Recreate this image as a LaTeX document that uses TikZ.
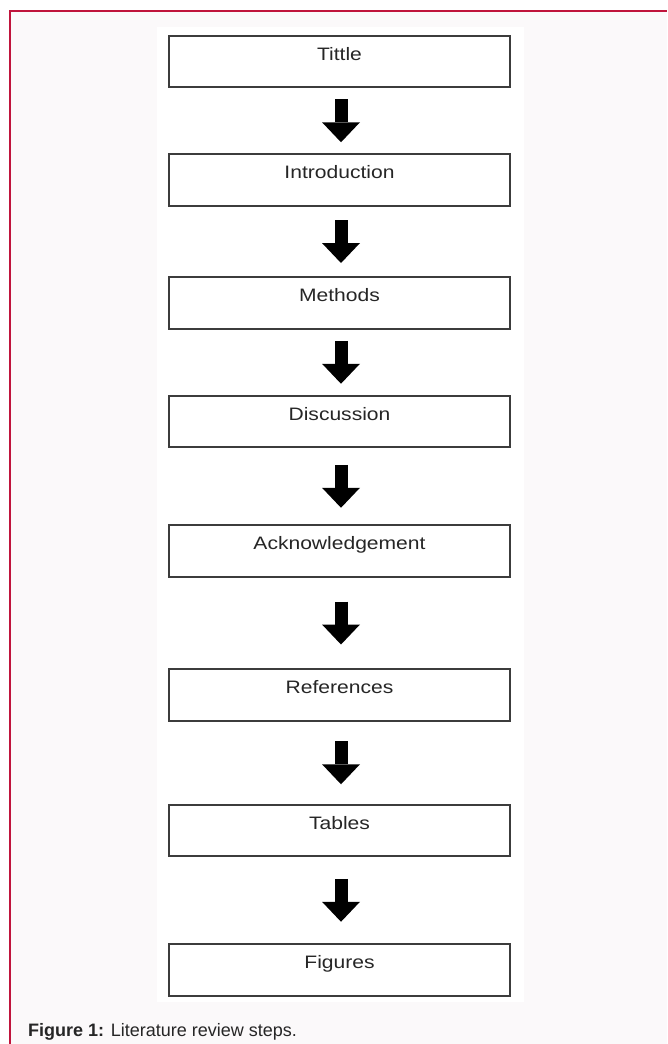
\documentclass[tikz,border=0pt]{standalone}
\usepackage{graphicx}
\usepackage{fontspec}
\setmainfont{Liberation Sans}
\usetikzlibrary{arrows.meta,calc}
\definecolor{frame}{HTML}{C0143C}
\definecolor{bgpink}{HTML}{FBF9FA}
\definecolor{boxline}{HTML}{3C3C3C}
\definecolor{txt}{HTML}{262626}
\begin{document}
\begin{tikzpicture}[x=1pt,y=-1pt,
  stepbox/.style={draw=boxline, line width=1.8pt, fill=white,
    minimum width=341pt, minimum height=51.5pt, inner sep=0pt,
    text height=10pt, text depth=13pt,
    font=\fontsize{18}{20}\selectfont, text=txt},
  blockarrow/.style={black, line width=13pt,
    -{Triangle[width=38pt,length=20pt,line width=0pt]}},
  caption/.style={anchor=base west, inner sep=0pt,
    font=\fontsize{18}{20}\selectfont, text=txt}]
\useasboundingbox (0,0) rectangle (667,1044);
\fill[white] (0,0) rectangle (667,1044);
\fill[bgpink] (10,11) rectangle (667,1044);
\draw[frame, line width=1.5pt] (10,1044) -- (10,11) -- (667,11);
\fill[white] (157,27) rectangle (524,1002);

\node[stepbox] (n1) at (339.5,61.5) {\scalebox{1.17}[1]{Tittle}};
\node[stepbox] (n2) at (339.5,180) {\scalebox{1.17}[1]{Introduction}};
\node[stepbox] (n3) at (339.5,303) {\scalebox{1.17}[1]{Methods}};
\node[stepbox] (n4) at (339.5,421.5) {\scalebox{1.17}[1]{Discussion}};
\node[stepbox] (n5) at (339.5,551) {\scalebox{1.17}[1]{Acknowledgement}};
\node[stepbox] (n6) at (339.5,695) {\scalebox{1.17}[1]{References}};
\node[stepbox] (n7) at (339.5,830.5) {\scalebox{1.17}[1]{Tables}};
\node[stepbox] (n8) at (339.5,970) {\scalebox{1.17}[1]{Figures}};

\foreach \a/\b in {n1/n2,n2/n3,n3/n4,n4/n5,n5/n6,n6/n7,n7/n8}
  \draw[blockarrow] ($(\a.south)!0.5!(\b.north)+(1.5pt,21.5pt)$) -- ($(\a.south)!0.5!(\b.north)+(1.5pt,-21.5pt)$);

\node[caption] (cap) at (28,1036) {\textbf{Figure 1:} Literature review steps.};
\end{tikzpicture}
\end{document}
